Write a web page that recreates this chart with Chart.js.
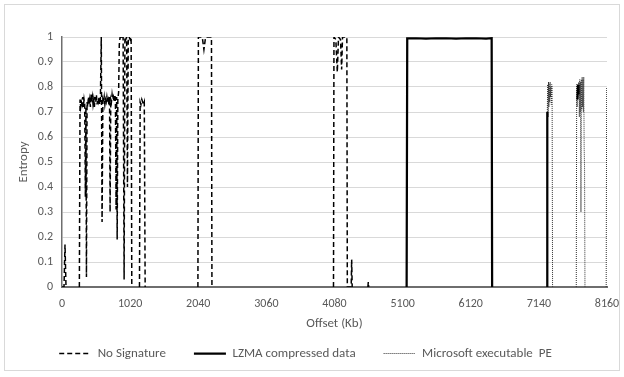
<!DOCTYPE html>
<html>
<head>
<meta charset="utf-8">
<script src="https://cdn.jsdelivr.net/npm/chart.js@4/dist/chart.umd.min.js"></script>
<style>
html,body{margin:0;padding:0;background:#fff;}
#wrap{width:624px;height:377px;position:relative;}
</style>
</head>
<body>
<div id="wrap"><canvas id="c" width="624" height="377"></canvas></div>
<script>
const seriesNames = ['No Signature', 'LZMA compressed data', 'Microsoft executable  PE'];
const xTicks = [0, 1020, 2040, 3060, 4080, 5100, 6120, 7140, 8160];
const yTicks = [0, 0.1, 0.2, 0.3, 0.4, 0.5, 0.6, 0.7, 0.8, 0.9, 1];

// No Signature (offset in Kb, entropy); null = gap
const noSigOffsets = [0, 30, 45, 60, 150, 260, 270, 280, 290, 300, 310, 320, 330, 340, 350, 358, 366, 375, 385, 395,
  405, 415, 425, 435, 445, 455, 465, 475, 485, 495, 505, 515, 525, 535, 545, 555, 565, 575, 588, 600,
  612, 622, 632, 642, 652, 662, 672, 682, 692, 702, 712, 720, 730, 740, 750, 760, 770, 780, 790, 800,
  810, 818, 826, 836, 848, 858, 870, 885, 900, 915, 930, 942, 955, 968, 980, 992, 1005, 1020, 1035, 1045,
  1100, 1160, 1170, 1182, 1195, 1208, 1220, 1232, 1245, 1600, 2035, 2042, 2100, 2125, 2150, 2238, 2245, 3000,
  4065, 4072, 4100, 4122, 4140, 4170, 4187, 4200, 4265, 4272, 4330, 4337, 4345, 4450, 4580, 4586, 4592];
const noSigEntropy = [0, 0, 0.17, 0, null, 0, 0.75, 0.72, 0.74, 0.73, 0.76, 0.72, 0.75, 0.73, 0.36, 0.72, 0.04, 0.74, 0.72, 0.76,
  0.73, 0.75, 0.72, 0.77, 0.74, 0.76, 0.73, 0.75, 0.72, 0.76, 0.74, 0.77, 0.73, 0.75, 0.74, 0.76, 0.73, 0.75, 1.0, 0.26,
  0.75, 0.74, 0.76, 0.73, 0.75, 0.74, 0.76, 0.74, 0.75, 0.73, 0.76, 0.30, 0.75, 0.74, 0.77, 0.75, 0.76, 0.74, 0.77, 0.75,
  0.31, 0.76, 0.19, 0.75, 0.78, 0.97, 1.0, 1.0, 0.99, 1.0, 0.03, 1.0, 0.99, 1.0, 0.40, 1.0, 1.0, 0.99, 1.0, 0,
  null, 0, 0.74, 0.73, 0.75, 0.74, 0.73, 0.74, 0, null, 0, 1.0, 1.0, 0.95, 1.0, 1.0, 0, null,
  0, 1.0, 0.99, 0.86, 1.0, 0.99, 0.87, 1.0, 1.0, 0, 0, 0.11, 0, null, 0, 0.02, 0];

// LZMA compressed data
const lzmaOffsets = [5160, 5169, 5300, 5450, 5600, 5750, 5900, 6050, 6200, 6350, 6433, 6440, 6900, 7262, 7266, 7500, 7718, 7726, 7734];
const lzmaEntropy = [0, 0.995, 0.995, 0.994, 0.995, 0.995, 0.994, 0.995, 0.995, 0.994, 0.995, 0, null, 0, 0.70, null, 0.75, 0.81, 0.77];

// Microsoft executable PE
const peOffsets = [7266, 7272, 7278, 7284, 7290, 7296, 7302, 7308, 7314, 7320, 7326, 7332, 7338, 7345, 7500,
  7700, 7706, 7712, 7718, 7740, 7746, 7752, 7758, 7764, 7770, 7776, 7782, 7788, 7794, 7800, 7806, 7812, 7818, 7824, 7830,
  8000, 8148, 8155];
const peEntropy = [0.70, 0.81, 0.68, 0.82, 0.72, 0.81, 0.74, 0.82, 0.76, 0.80, 0.73, 0.81, 0.80, 0, null,
  0, 0.81, 0.72, 0.80, 0.82, 0.68, 0.83, 0.70, 0.82, 0.30, 0.83, 0.71, 0.84, 0.72, 0.83, 0.70, 0.84, 0.56, 0.48, 0,
  null, 0, 0.80];

const FONT = 'Carlito, Lato, "Liberation Sans", sans-serif';
const TXT = '#595959';
const toPoints = (xs, ys) => xs.map((x, i) => ({x: x, y: ys[i]}));

const frame = {
  id: 'frame',
  beforeDraw(chart) {
    const ctx = chart.ctx;
    ctx.save();
    ctx.fillStyle = '#ffffff';
    ctx.fillRect(0, 0, chart.width, chart.height);
    ctx.strokeStyle = '#d9d9d9';
    ctx.lineWidth = 1;
    ctx.strokeRect(4.5, 4.5, 615, 366);
    ctx.restore();
  }
};

const legendPlace = {
  id: 'legendPlace',
  beforeLayout(chart) {
    const lg = chart.legend;
    if (lg && !lg._patched) {
      const fit = lg.fit;
      lg.fit = function () { fit.call(this); this.height = 40; };
      lg._patched = true;
    }
  },
  afterLayout(chart) {
    const lg = chart.legend;
    const h = lg.bottom - lg.top;
    lg.top = 319;
    lg.bottom = 319 + h;
  }
};

new Chart(document.getElementById('c'), {
  type: 'line',
  data: {
    datasets: [
      {label: seriesNames[0], data: toPoints(noSigOffsets, noSigEntropy), borderColor: '#000000', backgroundColor: '#000000',
        borderWidth: 1.5, borderDash: [5, 3], pointRadius: 0, tension: 0, fill: false, spanGaps: false},
      {label: seriesNames[1], data: toPoints(lzmaOffsets, lzmaEntropy), borderColor: '#000000', backgroundColor: '#000000',
        borderWidth: 2.25, pointRadius: 0, tension: 0, fill: false, spanGaps: false},
      {label: seriesNames[2], data: toPoints(peOffsets, peEntropy), borderColor: '#333333', backgroundColor: '#333333',
        borderWidth: 1, borderDash: [1, 1], pointRadius: 0, tension: 0, fill: false, spanGaps: false}
    ]
  },
  options: {
    responsive: false,
    animation: false,
    devicePixelRatio: 1,
    layout: {padding: {left: 4, right: 17, top: 37, bottom: 0}},
    plugins: {
      legend: {
        position: 'bottom',
        labels: {
          usePointStyle: true, pointStyle: 'line', pointStyleWidth: 32, boxHeight: 12,
          padding: 28, color: TXT, font: {family: FONT, size: 13},
          generateLabels: (chart) => {
            const items = Chart.defaults.plugins.legend.labels.generateLabels(chart);
            items.forEach((it, i) => {
              const ds = chart.data.datasets[i];
              it.lineDash = ds.borderDash || [];
              it.lineWidth = ds.borderWidth;
              it.strokeStyle = ds.borderColor;
              it.fillStyle = ds.borderColor;
              it.pointStyle = 'line';
            });
            return items;
          }
        }
      },
      tooltip: {enabled: false}
    },
    scales: {
      x: {
        type: 'linear', min: 0, max: 8160,
        afterBuildTicks: s => { s.ticks = xTicks.map(v => ({value: v})); },
        afterFit: s => { s.height = 50; s.paddingLeft = 0; s.paddingRight = 0; },
        grid: {color: 'rgba(0,0,0,0)', drawTicks: false},
        border: {color: '#6e6e6e', width: 2},
        ticks: {color: TXT, font: {family: FONT, size: 12}, padding: 10, maxRotation: 0, autoSkip: false, callback: v => String(v)},
        title: {display: true, text: 'Offset (Kb)', color: TXT, font: {family: FONT, size: 13}, padding: {top: 0, bottom: 5}}
      },
      y: {
        min: 0, max: 1,
        afterBuildTicks: s => { s.ticks = yTicks.map(v => ({value: v})); },
        afterFit: s => { s.width = 58; s.paddingTop = 0; s.paddingBottom = 0; },
        grid: {color: '#d9d9d9', lineWidth: 1, drawTicks: false},
        border: {color: '#6e6e6e', width: 1.5},
        ticks: {color: TXT, font: {family: FONT, size: 12}, padding: 9, callback: v => String(v)},
        title: {display: true, text: 'Entropy', color: TXT, font: {family: FONT, size: 13}, padding: {top: 12, bottom: 0}}
      }
    }
  },
  plugins: [frame, legendPlace]
});
</script>
</body>
</html>
